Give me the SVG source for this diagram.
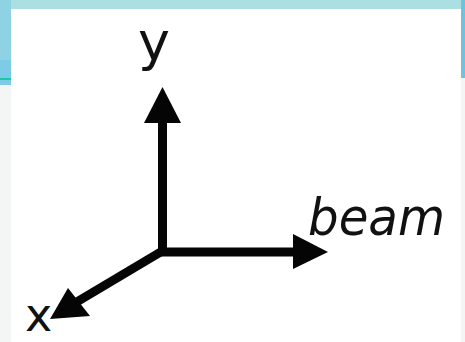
<svg xmlns="http://www.w3.org/2000/svg" width="465" height="342" viewBox="0 0 465 342">
<style>
.ax{stroke:#050505;stroke-width:9;fill:none}
.hd{fill:#050505}
.lb{font-family:"DejaVu Sans",sans-serif;fill:#111}
</style>
<rect width="465" height="342" fill="#f4f6f6"/>
<rect width="465" height="9" fill="#acdfe2"/>
<rect width="11" height="85" fill="#8ed3e4"/>
<rect x="0" y="60" width="11" height="25" fill="#7ecbe8"/>
<rect x="0" y="78" width="11" height="2" fill="#19c8a8"/>
<rect x="461" y="0" width="4" height="78" fill="#70c3dd"/>
<rect x="11" y="9" width="450" height="333" fill="#ffffff"/>
<g id="connectors">
<line class="ax" x1="162.5" y1="256" x2="162.5" y2="118"/>
<polygon class="hd" points="162.5,87 181,123 144,123"/>
<line class="ax" x1="158" y1="252" x2="297" y2="252"/>
<polygon class="hd" points="328,252 293,234 293,269"/>
<line class="ax" x1="164" y1="250" x2="75" y2="303"/>
<polygon class="hd" points="50,319 68,288 90,316"/>
</g>
<g id="y"><text class="lb" x="138" y="60" font-size="54">y</text></g>
<g id="beam"><text class="lb" x="308" y="235" font-size="52" font-style="italic" textLength="137" lengthAdjust="spacingAndGlyphs">beam</text></g>
<g id="x"><text class="lb" x="25" y="331" font-size="46">x</text></g>
</svg>
